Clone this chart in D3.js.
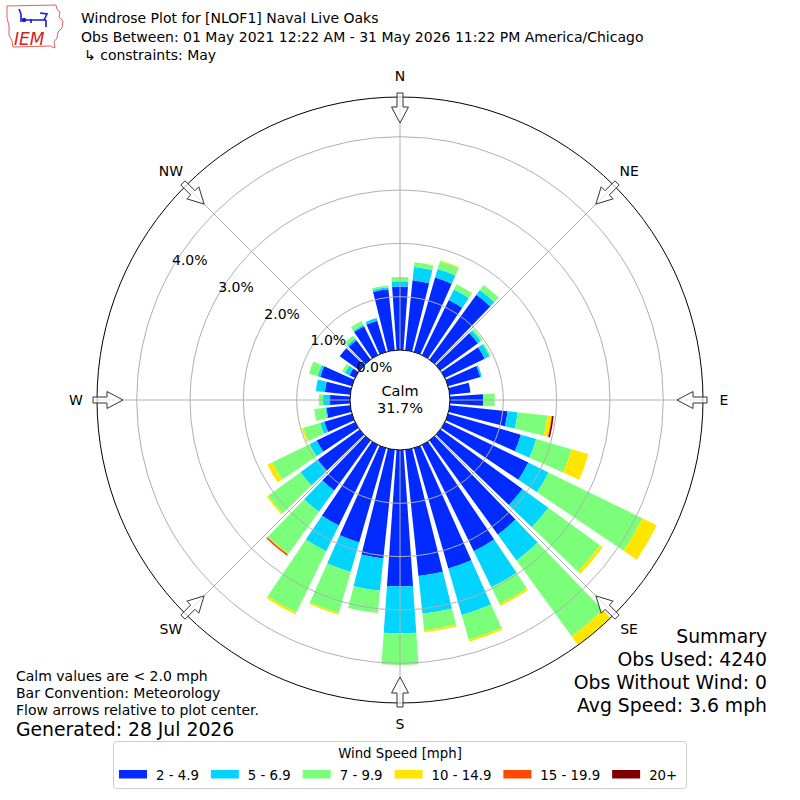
<!DOCTYPE html>
<html><head><meta charset="utf-8">
<script src="https://cdn.jsdelivr.net/npm/d3@7"></script>
<style>
body{margin:0;background:#fff}
svg{display:block}
text{font-family:"DejaVu Sans",sans-serif;fill:#000}
</style>
</head><body>
<svg id="chart" width="800" height="800"></svg>
<script>
// ---------- data ----------
const directions = [0,10,20,30,40,50,60,70,80,90,100,110,120,130,140,150,160,170,180,190,200,210,220,230,240,250,260,270,280,290,300,310,320,330,340,350];
const speedBins = ["2 - 4.9","5 - 6.9","7 - 9.9","10 - 14.9","15 - 19.9","20+"];
const binColors = ["#002aff","#00d4ff","#7bff7b","#ffe600","#ff4800","#800000"];
// percent of observations per direction and speed bin
const s2to4 =  [1.19,1.32,1.45,1.15,1.50,0.87,0.83,0.63,0.39,0.62,1.09,1.42,1.74,1.90,2.18,2.22,2.35,2.38,2.56,2.05,1.84,1.68,1.16,0.97,0.80,0.54,0.45,0.375,0.48,0.62,0.12,0.46,0.45,0.60,0.61,1.15];
const s5to6 =  [0.10,0.25,0.17,0.22,0.11,0.07,0.10,0.03,0,0.01,0.19,0.30,0.42,0.60,0.60,0.75,0.91,0.71,0.88,0.61,0.58,0.54,0.49,0.40,0.15,0.08,0.02,0.13,0.17,0.05,0.09,0,0.04,0.03,0.05,0.04];
const s7to9 =  [0.08,0.09,0.15,0.11,0.12,0.04,0.03,0,0,0.21,0.56,0.69,1.96,1.20,1.76,0.35,0.48,0.31,0.59,0.42,0.80,1.28,0.98,0.75,0.78,0.33,0.21,0.08,0,0.17,0.06,0,0.07,0.08,0,0.03];
const s10to14 =[0,0,0.02,0,0,0,0,0,0,0,0.08,0.33,0.30,0.06,0.20,0.04,0.04,0.04,0,0,0.03,0.04,0.01,0.03,0.10,0.03,0,0,0,0,0,0,0,0,0,0];
const s15to19 =[0,0,0,0,0,0,0,0,0,0,0.01,0,0,0,0,0,0,0,0,0,0,0,0.03,0,0,0,0,0,0,0,0,0,0,0,0,0];
const s20plus =[0,0,0,0,0,0,0,0,0,0,0.03,0,0,0,0,0,0,0,0,0,0,0,0,0,0,0,0,0,0,0,0,0,0,0,0,0];
const ringTicks = [0,1,2,3,4];
const compassNames = ["N","NE","E","SE","S","SW","W","NW"];
const compassAngles = [0,45,90,135,180,225,270,315];
const calmPct = "31.7%";
const titleLines = ["Windrose Plot for [NLOF1] Naval Live Oaks",
  "Obs Between: 01 May 2021 12:22 AM - 31 May 2026 11:22 PM America/Chicago",
  "\u21b3 constraints: May"];
const noteLines = ["Calm values are < 2.0 mph","Bar Convention: Meteorology","Flow arrows relative to plot center."];
const generated = "Generated: 28 Jul 2026";
const summaryLines = ["Summary","Obs Used: 4240","Obs Without Wind: 0","Avg Speed: 3.6 mph"];

// ---------- setup ----------
const svg = d3.select("#chart");
const cx = 400, cy = 400;
const rCalm = 50, rOuter = 303;
const r = d3.scaleLinear().domain([0,4]).range([rCalm, 263.3]);
const rad = d => d*Math.PI/180;
const halfW = rad(4);

const series = [s2to4,s5to6,s7to9,s10to14,s15to19,s20plus];
const table = directions.map((d,i)=>{const o={dir:d}; speedBins.forEach((b,k)=>o[b]=series[k][i]); return o;});
const stacked = d3.stack().keys(speedBins)(table);

const plot = svg.append("g").attr("transform",`translate(${cx},${cy})`);
const arc = d3.arc();

// bars
stacked.forEach((layer,k)=>{
  plot.append("g").selectAll("path").data(layer.filter(s=>s[1]-s[0]>0 && r(s[0])<rOuter)).join("path")
    .attr("d", s => arc({innerRadius:r(s[0]), outerRadius:Math.min(r(s[1]),rOuter),
        startAngle:rad(s.data.dir)-halfW, endAngle:rad(s.data.dir)+halfW}))
    .attr("fill", binColors[k]);
});

// grid rings and spokes
plot.append("g").selectAll("circle").data(ringTicks.slice(1)).join("circle")
  .attr("r", d=>r(d)).attr("fill","none").attr("stroke","#b0b0b0").attr("stroke-width",1);
plot.append("g").selectAll("line").data(compassAngles).join("line")
  .attr("x1", a=>rCalm*Math.sin(rad(a))).attr("y1", a=>-rCalm*Math.cos(rad(a)))
  .attr("x2", a=>rOuter*Math.sin(rad(a))).attr("y2", a=>-rOuter*Math.cos(rad(a)))
  .attr("stroke","#b0b0b0").attr("stroke-width",1);

// outer circle and calm circle
plot.append("circle").attr("r",rOuter).attr("fill","none").attr("stroke","#000").attr("stroke-width",1);
plot.append("circle").attr("r",rCalm).attr("fill","#fff").attr("stroke","#000").attr("stroke-width",1);

// ring labels
plot.append("g").selectAll("text").data(ringTicks).join("text")
  .attr("x", d=>r(d)*Math.sin(rad(300))).attr("y", d=>-r(d)*Math.cos(rad(300))-3)
  .attr("font-size",14).text(d=>d.toFixed(1)+"%");

// arrows
function arrowPts(theta){
  const t = rad(theta), s=Math.sin(t), c=Math.cos(t);
  const P = (p,rr)=>[rr*s + p*c, -rr*c + p*s];
  return [P(-3,307),P(3,307),P(3,293),P(8.5,293),P(0,277),P(-8.5,293),P(-3,293)];
}
plot.append("g").selectAll("path").data(compassAngles).join("path")
  .attr("d", a=>d3.line()(arrowPts(a))+"Z")
  .attr("fill","#fff").attr("fill-opacity",0.7).attr("stroke","#333").attr("stroke-width",1);

// compass labels
plot.append("g").selectAll("text").data(compassAngles).join("text")
  .attr("x", a=>324*Math.sin(rad(a))).attr("y", a=>-324*Math.cos(rad(a)))
  .attr("text-anchor","middle").attr("dominant-baseline","central").attr("font-size",14)
  .text((a,i)=>compassNames[i]);

// calm text
plot.append("text").attr("x",0).attr("y",-4).attr("text-anchor","middle").attr("font-size",14.5).text("Calm");
plot.append("text").attr("x",0).attr("y",13).attr("text-anchor","middle").attr("font-size",14.5).text(calmPct);

// ---------- title ----------
svg.append("g").selectAll("text").data(titleLines).join("text")
  .attr("x",(d,i)=>i===2?84:81).attr("y",(d,i)=>23+i*18.5).attr("font-size",14).text(d=>d);

// logo
const logo = svg.append("g");
logo.append("path").attr("d","M7,6 L56,5 L57,9 L60,12 L59,17 L63,21 L62,28 L58,32 L57,38 L54,42 L55,48 L50,46 L13,47 L12,41 L9,35 L9,26 L7,18 Z")
  .attr("fill","none").attr("stroke","#e06060").attr("stroke-width",1);
logo.append("path").attr("d","M19,9 L21,14 M21,14 L21,22 M22,20 L46,20 M40,13 L47,14 L44,20 M46,20 L46,27 M31,19 L31,23")
  .attr("fill","none").attr("stroke","#1a1acc").attr("stroke-width",1.6);
logo.append("circle").attr("cx",24).attr("cy",20).attr("r",2.2).attr("fill","#1a1acc");
logo.append("text").attr("x",14).attr("y",45).attr("font-family","Liberation Serif").attr("font-style","italic")
  .attr("font-size",17).style("fill","#d42020").text("IEM");

// ---------- notes ----------
svg.append("g").selectAll("text").data(noteLines).join("text")
  .attr("x",16).attr("y",(d,i)=>681+i*17).attr("font-size",14).text(d=>d);
svg.append("text").attr("x",16).attr("y",735.5).attr("font-size",18.8).text(generated);

svg.append("g").selectAll("text").data(summaryLines).join("text")
  .attr("x",767).attr("y",(d,i)=>642.5+i*23).attr("text-anchor","end").attr("font-size",18.8).text(d=>d);

// ---------- legend ----------
const leg = svg.append("g");
leg.append("rect").attr("x",113.5).attr("y",741.5).attr("width",573).attr("height",47).attr("rx",3)
  .attr("fill","#fff").attr("stroke","#cccccc").attr("stroke-width",1);
leg.append("text").attr("x",400).attr("y",758).attr("text-anchor","middle").attr("font-size",13.3).text("Wind Speed [mph]");
let lx = 119;
speedBins.forEach((b,k)=>{
  leg.append("rect").attr("x",lx).attr("y",770).attr("width",28).attr("height",8.5).attr("fill",binColors[k]);
  const t = leg.append("text").attr("x",lx+37).attr("y",779.5).attr("font-size",13.3).text(b);
  lx = lx + 37 + t.node().getComputedTextLength() + 12;
});
</script>
</body></html>
